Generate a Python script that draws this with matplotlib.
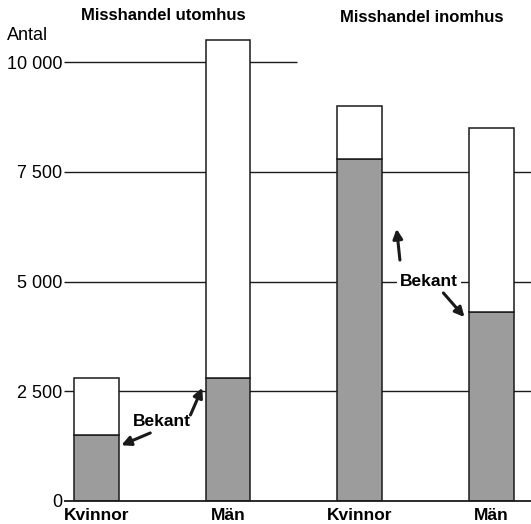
import numpy as np
import matplotlib.pyplot as plt

plt.rcParams['font.family'] = ['Liberation Sans', 'DejaVu Sans']

# Misshandel: totalt antal fall och antal där gärningsmannen var bekant
groups = ['Misshandel utomhus', 'Misshandel inomhus']
categories = ['Kvinnor', 'Män', 'Kvinnor', 'Män']
totals = [2800, 10500, 9000, 8500]
bekant = [1500, 2800, 7800, 4300]
yticks = [0, 2500, 5000, 7500, 10000]
ytick_labels = ['0', '2 500', '5 000', '7 500', '10 000']

fig = plt.figure(figsize=(5.31, 5.24), dpi=100)
ax = fig.add_axes([0.1205, 0.0439, 0.8795, 0.9046])

x = np.arange(len(categories))
width = 0.34
xmin, xmax = -0.245, 3.3
ax.set_xlim(xmin, xmax)
ax.set_ylim(0, 10800)

ink = '#1a1a1a'

# horizontal guide lines behind the bars; the top one stops after the first group
for yv in yticks[1:-1]:
    ax.hlines(yv, xmin, xmax, color=ink, lw=1.0, zorder=1)
ax.hlines(0, xmin, xmax, color=ink, lw=1.3, zorder=3, clip_on=False)
ax.hlines(10000, xmin, 1.52, color=ink, lw=1.0, zorder=1)

# stacked bars: shaded known offender, white for the rest
ax.bar(x, bekant, width, color='#9c9c9c', edgecolor=ink, lw=1.1, zorder=2)
rest = [t - b for t, b in zip(totals, bekant)]
ax.bar(x, rest, width, bottom=bekant, color='white', edgecolor=ink, lw=1.1, zorder=2)

ax.set_yticks(yticks)
ax.set_yticklabels(ytick_labels, fontsize=13)
ax.set_xticks(x)
ax.set_xticklabels(categories, fontsize=12.5, fontweight='bold')
ax.tick_params(axis='y', length=0, pad=1)
ax.tick_params(axis='x', length=0, pad=5)
for s in ax.spines.values():
    s.set_visible(False)

fig.text(7 / 531, 1 - 35 / 524, 'Antal', fontsize=13, va='center', ha='left')
fig.text(163 / 531, 1 - 16 / 524, groups[0], fontsize=12, fontweight='bold',
         ha='center', va='center')
fig.text(422 / 531, 1 - 18 / 524, groups[1], fontsize=12, fontweight='bold',
         ha='center', va='center')

arrow = dict(arrowstyle='-|>', color=ink, lw=2.2, mutation_scale=14,
             shrinkA=0, shrinkB=0)

ax.text(0.495, 1800, 'Bekant', fontsize=12.5, fontweight='bold', ha='center',
        va='center', zorder=4)
ax.annotate('', xy=(0.19, 1270), xytext=(0.41, 1550), arrowprops=arrow, zorder=4)
ax.annotate('', xy=(0.805, 2580), xytext=(0.715, 1960), arrowprops=arrow, zorder=4)

ax.text(2.525, 4990, 'Bekant', fontsize=12.5, fontweight='bold', ha='center',
        va='center', zorder=4,
        bbox=dict(facecolor='white', edgecolor='none', pad=2))
ax.annotate('', xy=(2.28, 6200), xytext=(2.305, 5490), arrowprops=arrow, zorder=4)
ax.annotate('', xy=(2.795, 4190), xytext=(2.635, 4740), arrowprops=arrow, zorder=4)

fig.savefig('out.png', dpi=100)
